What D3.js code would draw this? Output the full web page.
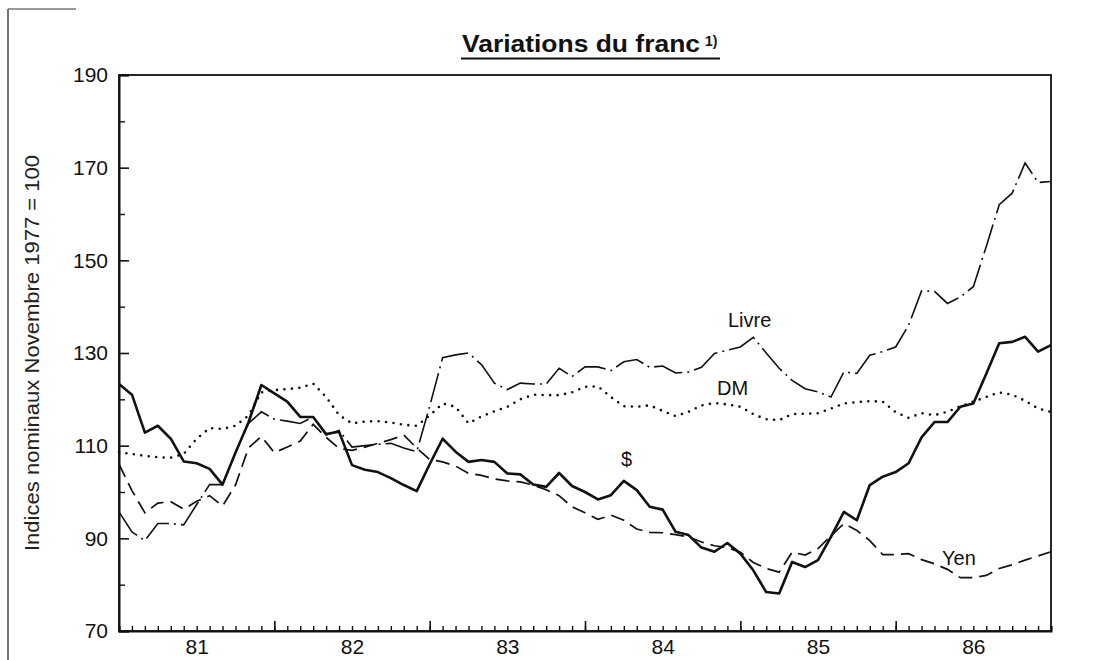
<!DOCTYPE html>
<html>
<head>
<meta charset="utf-8">
<script src="https://cdn.jsdelivr.net/npm/d3@7"></script>
<style>
  html, body { margin: 0; padding: 0; background: #fff; }
  svg { display: block; font-family: "Liberation Sans", Arial, sans-serif; }
</style>
</head>
<body>
<svg id="chart" width="1101" height="660"></svg>
<script>
// ---- data (monthly, Jan 1981 .. Jan 1987, index 0..72) ----
const yearLabels = ["81", "82", "83", "84", "85", "86"];
const yTickLabels = [70, 90, 110, 130, 150, 170, 190];

const dollar = [123.3,121,112.8,114.3,111.5,106.6,106.2,105,101.6,108.5,115,123.1,
  121.3,119.5,116.2,116.2,112.5,113,105.8,104.8,104.3,103,101.5,100.2,
  106,111.5,108.7,106.5,106.9,106.5,104,103.8,101.6,101.1,104.1,101.3,
  100,98.4,99.3,102.4,100.4,96.8,96.2,91.4,90.7,88,87.1,89,
  86.7,83.1,78.4,78.1,84.9,83.8,85.3,90.3,95.7,93.9,101.5,103.3,
  104.3,106.2,111.8,115.1,115.1,118.4,119.1,125.5,132.1,132.4,133.5,130.3,131.7];

const livre = [95.7,91.4,89.5,93.2,93.2,92.9,97.3,101.6,101.6,108.5,114.8,117.3,
  115.7,115.3,114.8,116.2,112.3,113.3,109.7,110,110.3,110.5,109.5,108.7,
  118.5,129,129.6,130,127.5,123.5,122.1,123.5,123.3,123.3,126.7,124.9,
  127,127,126.2,128.1,128.6,126.9,127.2,125.7,125.9,126.9,129.9,130.6,
  131.3,133.4,130,126.7,124.1,122.3,121.6,120.5,125.9,125.6,129.5,130.3,
  131.3,136,143.4,143.3,140.7,142.1,144.3,153,162,164.5,171,166.8,167];

const yen = [106,100.3,95.5,97.6,97.9,96.3,98,99.2,97,101.5,109.5,112,
  108.5,109.7,111,114.6,111.8,109.4,109,109.7,110.5,111.3,112.3,109.5,
  107,106.5,105.6,104,103.6,102.8,102.4,102.2,101.5,100.5,99.2,96.8,
  95.5,94.1,95,93.9,92,91.3,91.2,90.8,90.3,89.2,88.4,88,
  87,84.8,83.5,82.7,87,86.4,87.8,90.5,93.2,91.7,89.5,86.5,
  86.5,86.7,85.4,84.5,83.3,81.5,81.5,82,83.5,84.3,85.3,86.2,87.1];

const dm = [108.6,108.2,107.8,107.5,107.4,108.2,111.5,113.8,113.6,114.3,116.5,121.5,
  122,122.2,122.5,123.4,120.5,116.6,114.8,115.2,115.3,115,114.5,114.3,
  116.5,119.1,118.4,114.8,116.3,117.4,118.4,120,121,120.9,120.9,121.5,
  122.7,122.8,120.5,118.5,118.4,118.7,117.5,116.4,117.3,118.7,119.2,118.9,
  118.4,116.8,115.7,115.5,116.8,116.9,117,118,119.1,119.4,119.6,119.5,
  117.2,116,117,116.6,117.3,118.5,119.5,120.5,121.5,121,119.7,118,117.3];

const seriesNames = ["$", "Livre", "DM", "Yen"];

(function () {
// ---- layout ----
const svg = d3.select("#chart");
const pl = 119, pr = 1051, pt = 75, pb = 631;
const x = d3.scaleLinear().domain([0, 72]).range([pl, pr]);
const y = d3.scaleLinear().domain([70, 190]).range([pb, pt]);

// page border fragments
svg.append("line").attr("x1", 8).attr("x2", 8).attr("y1", 9).attr("y2", 660)
  .attr("stroke", "#444").attr("stroke-width", 1.5);
svg.append("line").attr("x1", 8).attr("x2", 76).attr("y1", 9).attr("y2", 9)
  .attr("stroke", "#777").attr("stroke-width", 1.5);

// title
svg.append("text").attr("x", 462).attr("y", 52)
  .attr("font-size", 23).attr("font-weight", "bold").attr("fill", "#111")
  .attr("textLength", 238).attr("lengthAdjust", "spacingAndGlyphs")
  .text("Variations du franc");
svg.append("text").attr("x", 705).attr("y", 46)
  .attr("font-size", 14).attr("font-weight", "bold").attr("fill", "#111")
  .text("1)");
svg.append("line").attr("x1", 461).attr("x2", 720).attr("y1", 58.5).attr("y2", 58.5)
  .attr("stroke", "#111").attr("stroke-width", 2);

// y axis label
svg.append("text")
  .attr("transform", "translate(39,353) rotate(-90)")
  .attr("text-anchor", "middle")
  .attr("font-size", 20).attr("fill", "#222")
  .attr("textLength", 396).attr("lengthAdjust", "spacingAndGlyphs")
  .text("Indices nominaux Novembre 1977 = 100");

// frame
svg.append("rect").attr("x", pl).attr("y", pt)
  .attr("width", pr - pl).attr("height", pb - pt)
  .attr("fill", "none").attr("stroke", "#111").attr("stroke-width", 1.8);

// y axis major
const yMajor = svg.append("g").attr("transform", `translate(${pl},0)`)
  .call(d3.axisLeft(y).tickValues(yTickLabels).tickSize(-10).tickPadding(11).tickFormat(d3.format("d")));
yMajor.select(".domain").attr("stroke-width", 2).attr("stroke", "#111");
yMajor.selectAll(".tick line").attr("stroke-width", 1.6).attr("stroke", "#111");
yMajor.selectAll(".tick text").attr("font-size", 21).attr("fill", "#111")
  .attr("font-family", "Liberation Sans, Arial, sans-serif");

// y axis minor
const yMinorVals = d3.range(80, 190, 20);
const yMinor = svg.append("g").attr("transform", `translate(${pl},0)`)
  .call(d3.axisLeft(y).tickValues(yMinorVals).tickSize(-6).tickFormat(""));
yMinor.select(".domain").remove();
yMinor.selectAll(".tick line").attr("stroke-width", 1.4).attr("stroke", "#111");

// x axis: monthly ticks
const months = d3.range(0, 73);
const xMinor = svg.append("g").attr("transform", `translate(0,${pb})`)
  .call(d3.axisBottom(x).tickValues(months).tickSize(-5).tickFormat(""));
xMinor.select(".domain").attr("stroke-width", 2).attr("stroke", "#111");
xMinor.selectAll(".tick line").attr("stroke-width", 1.4).attr("stroke", "#111");

// x axis: year boundaries
const xMajor = svg.append("g").attr("transform", `translate(0,${pb})`)
  .call(d3.axisBottom(x).tickValues(d3.range(12, 72, 12)).tickSize(-10).tickFormat(""));
xMajor.select(".domain").remove();
xMajor.selectAll(".tick line").attr("stroke-width", 1.6).attr("stroke", "#111");

// x axis: year labels at mid-year
const xLab = svg.append("g").attr("transform", `translate(0,${pb})`)
  .call(d3.axisBottom(x).tickValues(yearLabels.map((d, i) => 6 + 12 * i))
    .tickSize(0).tickPadding(8).tickFormat((d, i) => yearLabels[i]));
xLab.select(".domain").remove();
xLab.selectAll(".tick text").attr("font-size", 21).attr("fill", "#111")
  .attr("font-family", "Liberation Sans, Arial, sans-serif");

// lines
const line = d3.line().x((d, i) => x(i)).y(d => y(d));
const g = svg.append("g").attr("fill", "none").attr("stroke", "#111");

g.append("path").datum(dm).attr("d", line)
  .attr("stroke-width", 2.6).attr("stroke-linecap", "round")
  .attr("stroke-dasharray", "0,7.5");

g.append("path").datum(yen).attr("d", line)
  .attr("stroke-width", 1.7).attr("stroke-dasharray", "14,7");

g.append("path").datum(livre).attr("d", line)
  .attr("stroke-width", 1.6).attr("stroke-dasharray", "30,5,2,5");

g.append("path").datum(dollar).attr("d", line)
  .attr("stroke-width", 2.6).attr("stroke-linejoin", "round");

// series labels
const labelPos = {"$": [621, 466], "Livre": [728, 327], "DM": [717, 395], "Yen": [942, 565]};
seriesNames.forEach(n => {
  svg.append("text").attr("x", labelPos[n][0]).attr("y", labelPos[n][1])
    .attr("font-size", 20).attr("fill", "#111").text(n);
});
})();
</script>
</body>
</html>
